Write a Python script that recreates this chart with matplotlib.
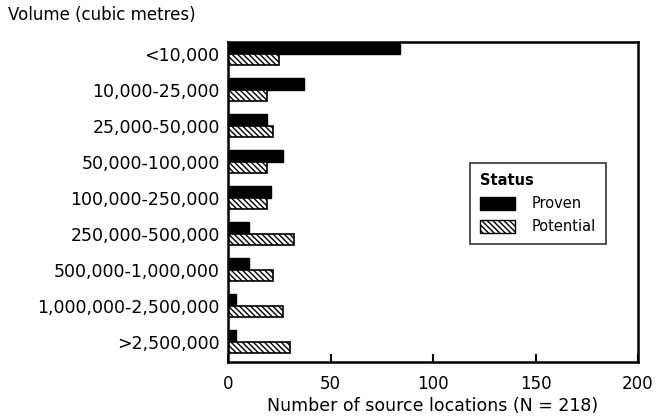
import numpy as np
import matplotlib
matplotlib.use("Agg")
import matplotlib.pyplot as plt
from matplotlib.patches import Patch

# volume classes (top to bottom) and counts
CLASSES = ["<10,000", "10,000-25,000", "25,000-50,000", "50,000-100,000",
           "100,000-250,000", "250,000-500,000", "500,000-1,000,000",
           "1,000,000-2,500,000", ">2,500,000"]
PROVEN = [84, 37, 19, 27, 21, 10, 10, 4, 4]
POTENTIAL = [25, 19, 22, 19, 19, 32, 22, 27, 30]
XTICKS = [0, 50, 100, 150, 200]

plt.rcParams["font.family"] = ["DejaVu Sans"]
plt.rcParams["hatch.linewidth"] = 1.0

fig = plt.figure(figsize=(6.56, 4.16), dpi=100)
ax = fig.add_axes([0.3476, 0.1298, 0.625, 0.769])

y = np.arange(len(CLASSES))
h = 0.32
HATCH = "\\\\\\\\\\\\"
ax.barh(y - h / 2, PROVEN, h, color="black", edgecolor="black")
ax.barh(y + h / 2, POTENTIAL, h, color="white", edgecolor="black",
        hatch=HATCH, linewidth=1.2)

ax.set_xlim(0, 200)
ax.set_ylim(8.56, -0.33)
ax.set_xticks(XTICKS)
ax.set_yticks(y)
ax.set_yticklabels(CLASSES, fontsize=12.5)
ax.tick_params(axis="x", direction="in", length=6, width=1.5, labelsize=12, pad=9)
ax.tick_params(axis="y", length=0, pad=6)
for s in ax.spines.values():
    s.set_linewidth(1.8)

ax.set_xlabel("Number of source locations (N = 218)", fontsize=12.5, labelpad=3)
fig.text(0.012, 0.963, "Volume (cubic metres)", fontsize=12, va="center", ha="left")

handles = [Patch(facecolor="black", edgecolor="black", label="Proven"),
           Patch(facecolor="white", edgecolor="black", hatch=HATCH, label="Potential")]
leg = ax.legend(handles=handles, title="Status", loc="upper left",
                bbox_to_anchor=(0.59, 0.622), borderaxespad=0, fontsize=10.5,
                title_fontsize=10.5, frameon=True, fancybox=False, edgecolor="black",
                borderpad=0.7, labelspacing=0.55, handlelength=2.4,
                handleheight=1.0, handletextpad=1.1)
leg.get_title().set_fontweight("bold")
leg._legend_box.align = "left"
leg.get_frame().set_linewidth(1.2)

fig.savefig("out.png", dpi=100)
